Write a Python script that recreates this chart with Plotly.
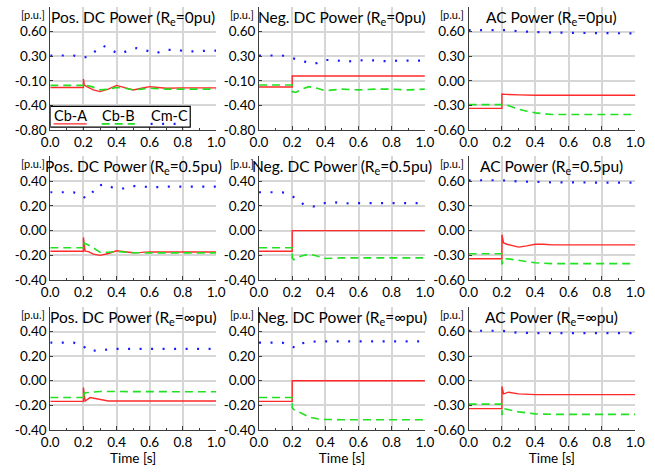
import numpy as np
import plotly.graph_objects as go

# ---------------- tick labels (evenly spaced on the chart) ----------------
ticks_dc_wide = [-0.80, -0.40, -0.10, 0.30, 0.60]
ticks_dc = [-0.40, -0.20, 0.00, 0.20, 0.40]
ticks_ac = [-0.60, -0.30, 0.00, 0.30, 0.60]
x_ticks = [0.0, 0.2, 0.4, 0.6, 0.8, 1.0]

# ---------------- Row 1 : Re = 0 pu ----------------
pos_re0_A_t = [0, 0.2, 0.2, 0.205, 0.22, 0.26, 0.3, 0.35, 0.4, 0.45, 0.5, 0.55, 0.6, 0.65, 0.7, 0.8, 0.9, 1.0]
pos_re0_A = [-0.18, -0.18, -0.07, -0.15, -0.17, -0.21, -0.23, -0.20, -0.155, -0.18, -0.21, -0.19, -0.17, -0.18, -0.19, -0.185, -0.185, -0.185]
pos_re0_B_t = [0, 0.2, 0.205, 0.21, 0.25, 0.3, 0.35, 0.4, 0.45, 0.5, 0.55, 0.6, 0.7, 0.8, 0.9, 1.0]
pos_re0_B = [-0.155, -0.155, -0.13, -0.15, -0.17, -0.21, -0.20, -0.18, -0.19, -0.21, -0.20, -0.19, -0.20, -0.20, -0.20, -0.20]
pos_re0_C_t = [0, 0.07, 0.14, 0.2, 0.24, 0.27, 0.32, 0.37, 0.42, 0.47, 0.52, 0.58, 0.64, 0.70, 0.76, 0.82, 0.88, 0.95, 1.0]
pos_re0_C = [0.31, 0.31, 0.31, 0.28, 0.30, 0.36, 0.43, 0.37, 0.33, 0.37, 0.40, 0.37, 0.34, 0.38, 0.38, 0.36, 0.36, 0.37, 0.37]

neg_re0_A_t = [0, 0.2, 0.2, 1.0]
neg_re0_A = [-0.175, -0.175, -0.02, -0.02]
neg_re0_B_t = [0, 0.2, 0.2, 0.22, 0.26, 0.3, 0.35, 0.4, 0.45, 0.5, 0.6, 0.7, 0.8, 0.9, 1.0]
neg_re0_B = [-0.15, -0.15, -0.23, -0.24, -0.20, -0.17, -0.19, -0.22, -0.21, -0.20, -0.21, -0.20, -0.20, -0.21, -0.20]
neg_re0_C_t = [0, 0.07, 0.14, 0.2, 0.25, 0.3, 0.35, 0.4, 0.46, 0.52, 0.58, 0.65, 0.71, 0.77, 0.84, 0.9, 0.97, 1.0]
neg_re0_C = [0.31, 0.31, 0.31, 0.27, 0.24, 0.19, 0.19, 0.24, 0.24, 0.21, 0.23, 0.24, 0.23, 0.22, 0.23, 0.23, 0.23, 0.23]

ac_re0_A_t = [0, 0.2, 0.2, 0.22, 0.3, 0.4, 1.0]
ac_re0_A = [-0.335, -0.335, -0.16, -0.165, -0.17, -0.175, -0.175]
ac_re0_B_t = [0, 0.2, 0.22, 0.25, 0.3, 0.35, 0.4, 0.45, 0.5, 0.6, 1.0]
ac_re0_B = [-0.29, -0.29, -0.29, -0.31, -0.345, -0.37, -0.39, -0.40, -0.41, -0.41, -0.41]
ac_re0_C_t = [0, 0.25, 0.3, 0.4, 0.5, 0.7, 1.0]
ac_re0_C = [0.62, 0.62, 0.605, 0.595, 0.59, 0.585, 0.58]

# ---------------- Row 2 : Re = 0.5 pu ----------------
pos_re05_A_t = [0, 0.2, 0.2, 0.205, 0.21, 0.23, 0.26, 0.3, 0.35, 0.4, 0.45, 0.5, 0.55, 0.6, 0.8, 1.0]
pos_re05_A = [-0.167, -0.167, -0.055, -0.14, -0.165, -0.17, -0.19, -0.20, -0.185, -0.163, -0.168, -0.178, -0.176, -0.172, -0.172, -0.172]
pos_re05_B_t = [0, 0.2, 0.2, 0.205, 0.22, 0.25, 0.3, 0.35, 0.4, 0.5, 0.6, 0.8, 1.0]
pos_re05_B = [-0.138, -0.138, -0.15, -0.10, -0.11, -0.13, -0.175, -0.175, -0.168, -0.178, -0.18, -0.18, -0.18]
pos_re05_C_t = [0, 0.07, 0.14, 0.2, 0.21, 0.25, 0.28, 0.33, 0.38, 0.44, 0.5, 0.56, 0.63, 0.7, 0.77, 0.85, 0.91, 0.97, 1.0]
pos_re05_C = [0.31, 0.31, 0.31, 0.28, 0.26, 0.30, 0.36, 0.375, 0.345, 0.34, 0.36, 0.355, 0.35, 0.355, 0.355, 0.35, 0.355, 0.355, 0.355]

neg_re05_A_t = [0, 0.2, 0.2, 1.0]
neg_re05_A = [-0.167, -0.167, 0.0, 0.0]
neg_re05_B_t = [0, 0.2, 0.2, 0.21, 0.25, 0.3, 0.35, 0.4, 0.5, 1.0]
neg_re05_B = [-0.138, -0.138, -0.22, -0.235, -0.207, -0.19, -0.205, -0.225, -0.22, -0.22]
neg_re05_C_t = [0, 0.07, 0.14, 0.2, 0.23, 0.27, 0.33, 0.38, 0.45, 0.51, 0.58, 0.65, 0.72, 0.79, 0.86, 0.93, 1.0]
neg_re05_C = [0.31, 0.31, 0.31, 0.28, 0.25, 0.21, 0.195, 0.22, 0.23, 0.22, 0.222, 0.222, 0.222, 0.222, 0.222, 0.222, 0.222]

ac_re05_A_t = [0, 0.2, 0.2, 0.205, 0.21, 0.23, 0.26, 0.3, 0.35, 0.4, 0.45, 0.5, 0.6, 0.8, 1.0]
ac_re05_A = [-0.34, -0.34, -0.05, -0.12, -0.15, -0.165, -0.18, -0.20, -0.185, -0.165, -0.165, -0.172, -0.172, -0.172, -0.172]
ac_re05_B_t = [0, 0.2, 0.2, 0.21, 0.25, 0.3, 0.35, 0.4, 0.5, 0.6, 1.0]
ac_re05_B = [-0.28, -0.28, -0.41, -0.34, -0.345, -0.36, -0.375, -0.39, -0.40, -0.40, -0.40]
ac_re05_C_t = [0, 0.2, 0.3, 0.5, 1.0]
ac_re05_C = [0.61, 0.61, 0.595, 0.585, 0.58]

# ---------------- Row 3 : Re = inf pu ----------------
pos_reinf_A_t = [0, 0.2, 0.2, 0.205, 0.21, 0.24, 0.3, 0.35, 0.4, 1.0]
pos_reinf_A = [-0.168, -0.168, -0.055, -0.14, -0.165, -0.137, -0.155, -0.165, -0.165, -0.165]
pos_reinf_B_t = [0, 0.2, 0.2, 0.205, 0.23, 0.3, 0.4, 1.0]
pos_reinf_B = [-0.136, -0.136, -0.155, -0.10, -0.096, -0.088, -0.088, -0.09]
pos_reinf_C_t = [0, 0.07, 0.14, 0.2, 0.22, 0.27, 0.33, 0.4, 0.5, 0.6, 0.7, 0.8, 0.9, 1.0]
pos_reinf_C = [0.31, 0.31, 0.31, 0.285, 0.25, 0.245, 0.25, 0.26, 0.26, 0.26, 0.26, 0.26, 0.26, 0.26]

neg_reinf_A_t = [0, 0.2, 0.2, 1.0]
neg_reinf_A = [-0.168, -0.168, 0.0, 0.0]
neg_reinf_B_t = [0, 0.2, 0.2, 0.21, 0.25, 0.3, 0.35, 0.4, 0.5, 1.0]
neg_reinf_B = [-0.136, -0.136, -0.22, -0.235, -0.26, -0.295, -0.31, -0.315, -0.317, -0.317]
neg_reinf_C_t = [0, 0.07, 0.14, 0.2, 0.22, 0.26, 0.3, 0.35, 0.4, 0.5, 0.6, 0.7, 0.8, 0.9, 1.0]
neg_reinf_C = [0.31, 0.31, 0.31, 0.28, 0.265, 0.305, 0.315, 0.32, 0.32, 0.32, 0.32, 0.32, 0.32, 0.32, 0.32]

ac_reinf_A_t = [0, 0.2, 0.2, 0.205, 0.21, 0.24, 0.3, 0.4, 1.0]
ac_reinf_A = [-0.34, -0.34, -0.07, -0.14, -0.16, -0.14, -0.16, -0.17, -0.17]
ac_reinf_B_t = [0, 0.2, 0.2, 0.21, 0.3, 0.4, 0.5, 1.0]
ac_reinf_B = [-0.285, -0.285, -0.42, -0.34, -0.38, -0.405, -0.41, -0.41]
ac_reinf_C_t = [0, 0.2, 0.3, 0.5, 1.0]
ac_reinf_C = [0.61, 0.61, 0.585, 0.58, 0.58]

titles = [
    "Pos. DC Power (R<sub>e</sub>=0pu)", "Neg. DC Power (R<sub>e</sub>=0pu)", "AC Power (R<sub>e</sub>=0pu)",
    "Pos. DC Power (R<sub>e</sub>=0.5pu)", "Neg. DC Power (R<sub>e</sub>=0.5pu)", "AC Power (R<sub>e</sub>=0.5pu)",
    "Pos. DC Power (R<sub>e</sub>=∞pu)", "Neg. DC Power (R<sub>e</sub>=∞pu)", "AC Power (R<sub>e</sub>=∞pu)",
]
series_names = ["Cb-A", "Cb-B", "Cm-C"]

panels = [
    (ticks_dc_wide, [(pos_re0_A_t, pos_re0_A), (pos_re0_B_t, pos_re0_B), (pos_re0_C_t, pos_re0_C)]),
    (ticks_dc_wide, [(neg_re0_A_t, neg_re0_A), (neg_re0_B_t, neg_re0_B), (neg_re0_C_t, neg_re0_C)]),
    (ticks_ac, [(ac_re0_A_t, ac_re0_A), (ac_re0_B_t, ac_re0_B), (ac_re0_C_t, ac_re0_C)]),
    (ticks_dc, [(pos_re05_A_t, pos_re05_A), (pos_re05_B_t, pos_re05_B), (pos_re05_C_t, pos_re05_C)]),
    (ticks_dc, [(neg_re05_A_t, neg_re05_A), (neg_re05_B_t, neg_re05_B), (neg_re05_C_t, neg_re05_C)]),
    (ticks_ac, [(ac_re05_A_t, ac_re05_A), (ac_re05_B_t, ac_re05_B), (ac_re05_C_t, ac_re05_C)]),
    (ticks_dc, [(pos_reinf_A_t, pos_reinf_A), (pos_reinf_B_t, pos_reinf_B), (pos_reinf_C_t, pos_reinf_C)]),
    (ticks_dc, [(neg_reinf_A_t, neg_reinf_A), (neg_reinf_B_t, neg_reinf_B), (neg_reinf_C_t, neg_reinf_C)]),
    (ticks_ac, [(ac_reinf_A_t, ac_reinf_A), (ac_reinf_B_t, ac_reinf_B), (ac_reinf_C_t, ac_reinf_C)]),
]

# ---------------- styling ----------------
W, H = 655, 472
FONT = "Lato"
line_styles = [
    dict(color="#ff2a2a", width=1.4, dash="solid"),
    dict(color="#22e022", width=1.6, dash="8px,5px"),
    dict(color="#1a1aff", width=2.2, dash="2px,9.5px"),
]
col_px = [(42.5, 213.3), (257.5, 428.3), (473.3, 645.0)]
row_px = [(7.3, 132.3), (159.0, 285.0), (312.3, 437.3)]
Y_TOP = 5.0
SLOTS = [0, 1, 2, 3, 4]


def to_slot(values, ticks):
    """Map values onto the evenly spaced tick slots (piecewise-linear axis)."""
    v = np.asarray(values, dtype=float)
    s = np.interp(v, ticks, SLOTS)
    lo = v < ticks[0]
    hi = v > ticks[-1]
    s[lo] = (v[lo] - ticks[0]) / (ticks[1] - ticks[0])
    s[hi] = SLOTS[-1] + (v[hi] - ticks[-1]) / (ticks[-1] - ticks[-2])
    return s


fig = go.Figure()
annotations = []
shapes = []
grid_col = "#d6d6d6"
axis_col = "#3c3c3c"

for i, (ticks, data) in enumerate(panels):
    r, c = divmod(i, 3)
    n = i + 1
    xa = "x" if n == 1 else f"x{n}"
    ya = "y" if n == 1 else f"y{n}"
    for k, (t, v) in enumerate(data):
        fig.add_trace(go.Scatter(
            x=t, y=to_slot(v, ticks), mode="lines", name=series_names[k],
            line=line_styles[k], showlegend=False, xaxis=xa, yaxis=ya,
            hovertemplate="%{x:.3f}s<extra>" + series_names[k] + "</extra>",
        ))
    x0, x1 = col_px[c]
    y0, y1 = row_px[r]
    xkey = "xaxis" if n == 1 else f"xaxis{n}"
    ykey = "yaxis" if n == 1 else f"yaxis{n}"
    xaxis = dict(
        domain=[x0 / W, x1 / W], anchor=ya, range=[0, 1],
        tickmode="array", tickvals=x_ticks, ticktext=[f"{v:.1f}" for v in x_ticks],
        showgrid=True, gridcolor=grid_col, gridwidth=1.6,
        showline=True, linecolor=axis_col, linewidth=1, zeroline=False,
        ticks="inside", ticklen=4, tickcolor=axis_col,
        minor=dict(dtick=0.1, tick0=0, ticks="inside", ticklen=2, tickcolor=axis_col, showgrid=False),
        tickfont=dict(family=FONT, size=13.5, color="black"),
    )
    if r == 2:
        xaxis["title"] = dict(text="Time [s]", font=dict(family=FONT, size=13.5, color="black"), standoff=3)
    yaxis = dict(
        domain=[1 - y1 / H, 1 - y0 / H], anchor=xa, range=[0, Y_TOP],
        tickmode="array", tickvals=SLOTS, ticktext=[f"{v:.2f}" for v in ticks],
        showgrid=True, gridcolor=grid_col, gridwidth=1.6,
        showline=True, linecolor=axis_col, linewidth=1, zeroline=False,
        ticks="inside", ticklen=3, tickcolor=axis_col,
        minor=dict(tickmode="array", tickvals=[Y_TOP], ticks="inside", ticklen=3, tickcolor=axis_col, showgrid=False),
        tickfont=dict(family=FONT, size=13.5, color="black"),
    )
    fig.layout[xkey] = xaxis
    fig.layout[ykey] = yaxis

    # panel title inside the plot area
    annotations.append(dict(
        text=titles[i], xref=f"{xa} domain", yref=f"{ya} domain", x=0.5, y=1,
        xanchor="center", yanchor="middle", yshift=-11, showarrow=False,
        font=dict(family=FONT, size=15.5, color="black"),
    ))
    # unit label
    annotations.append(dict(
        text="[p.u.]", xref="paper", yref="paper", x=(x0 - 3) / W, y=1 - (y0 + 7.7) / H,
        xanchor="right", yanchor="middle", showarrow=False,
        font=dict(family=FONT, size=11, color="black"),
    ))

# ---------------- legend box (in first panel) ----------------
leg_x1 = 0.844
shapes.append(dict(type="rect", xref="x", yref="y", x0=0.0, x1=leg_x1, y0=0.12, y1=0.96,
                   line=dict(color="black", width=1.2), fillcolor="white", layer="above"))
leg_text_x = [0.12, 0.41, 0.717]
leg_line_x = [(0.02, 0.22), (0.31, 0.51), (0.605, 0.81)]
for k in range(3):
    annotations.append(dict(
        text=series_names[k], xref="x", yref="y", x=leg_text_x[k], y=0.6,
        xanchor="center", yanchor="middle", showarrow=False,
        font=dict(family=FONT, size=14.5, color="black"),
    ))
    shapes.append(dict(type="line", xref="x", yref="y", x0=leg_line_x[k][0], x1=leg_line_x[k][1],
                       y0=0.25, y1=0.25, line=line_styles[k], layer="above"))

fig.update_layout(
    width=W, height=H, margin=dict(l=0, r=0, t=0, b=0),
    paper_bgcolor="white", plot_bgcolor="white",
    font=dict(family=FONT, size=13, color="black"),
    annotations=annotations, shapes=shapes, showlegend=False,
)

fig.write_html("out.html")
